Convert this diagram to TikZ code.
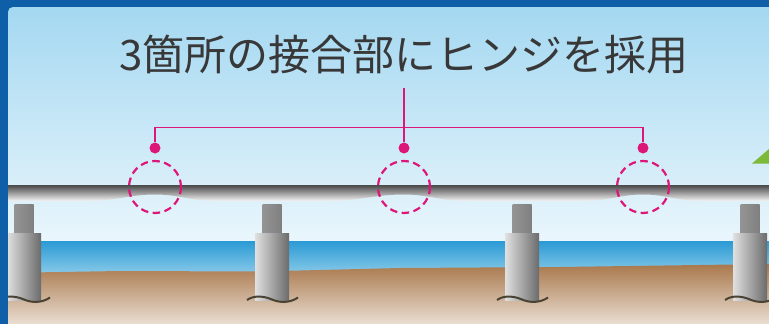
\documentclass[tikz,border=0pt]{standalone}
\usepackage{fontspec}
\newfontfamily\jpfont{Noto Sans CJK JP}
\usetikzlibrary{positioning}

\definecolor{frameblue}{HTML}{0E5FA8}
\definecolor{skytop}{HTML}{A4D8F1}
\definecolor{skybot}{HTML}{EAF6FC}
\definecolor{seatop}{HTML}{2A9AD4}
\definecolor{seabot}{HTML}{8FCDEA}
\definecolor{soiltop}{HTML}{A9784C}
\definecolor{soilbot}{HTML}{EADED2}
\definecolor{hingepink}{HTML}{DD1679}
\definecolor{leafgreen}{HTML}{7DBA3A}
\definecolor{footbrown}{HTML}{4A4232}

\tikzset{
  hinge line/.style={draw=hingepink, line width=1.6pt},
  hinge dot/.style={circle, fill=hingepink, inner sep=0pt, minimum size=11pt},
  hinge ring/.style={circle, draw=hingepink, dash pattern=on 7.5pt off 4.5pt, line width=2.2pt, minimum size=52pt, inner sep=0pt},
  pierhead/.style={left color=black!42, right color=black!50},
  piershaft/.style={left color=black!12, middle color=black!6, right color=black!58},
  pierfoot/.style={draw=footbrown, line width=2pt},
}

% one pier: narrow head, round shaft, wavy footing
\newcommand{\Pier}[1]{%
  \shade[pierhead] (#1-9.5,204) rectangle (#1+9.5,234);
  \shade[piershaft] (#1-17,233) rectangle (#1+17,300);
  \draw[pierfoot] (#1-25,300) .. controls (#1-18,295) and (#1-8,296) .. (#1,299.5)
    .. controls (#1+8,303) and (#1+18,303) .. (#1+26,297.5);
}

\begin{document}
\begin{tikzpicture}[x=1pt, y=-1pt]
\useasboundingbox (0,0) rectangle (769,324);
\fill[frameblue] (0,0) rectangle (769,324);

\begin{scope}
\clip[rounded corners=5pt] (8,7) -- (775,7) -- (775,330) -- (8,330) -- cycle;
\shade[top color=skytop, bottom color=skybot] (0,7) rectangle (769,242);
\fill[leafgreen] (752,163.5) -- (769,149) -- (769,163.5) -- cycle;
\shade[top color=seatop, bottom color=seabot] (0,241) rectangle (769,276);
\shade[top color=soiltop, bottom color=soilbot]
  (0,273) -- (120,271) -- (260,271.5) -- (400,268) -- (560,267) -- (769,264)
  -- (769,324) -- (0,324) -- cycle;

\Pier{24}
\Pier{272}
\Pier{522}
\Pier{750}

% deck, thicker over the piers
\shade[top color=black!72, middle color=black!38, bottom color=black!4]
  (0,185) -- (769,185) -- (769,201)
  -- (775,201) to[out=180,in=0] (700,201) to[out=180,in=0] (643,194.5)
  to[out=180,in=0] (585,201) -- (465,201) to[out=180,in=0] (404,194.5)
  to[out=180,in=0] (330,201) -- (215,201) to[out=180,in=0] (155,194.5)
  to[out=180,in=0] (90,201) -- (0,201) -- cycle;
\draw[black!70, line width=1.5pt] (0,185.5) -- (769,185.5);
\end{scope}

\node[font=\jpfont\fontsize{42}{46}\selectfont, text=black!78] (title) at (404,55)
  {3箇所の接合部にヒンジを採用};

\node[hinge ring] (r1) at (155,187) {};
\node[hinge ring] (r2) at (404,187) {};
\node[hinge ring] (r3) at (643,187) {};
\node[hinge dot] (d1) at (155,148) {};
\node[hinge dot] (d2) at (404,148) {};
\node[hinge dot] (d3) at (643,148) {};

\coordinate (stem) at (404,88);
\coordinate (b1) at (155,127.5);
\coordinate (b3) at (643,127.5);
\draw[hinge line] (stem) -- (d2);
\draw[hinge line] (d1) -- (b1) -- (b3) -- (d3);
\end{tikzpicture}
\end{document}
